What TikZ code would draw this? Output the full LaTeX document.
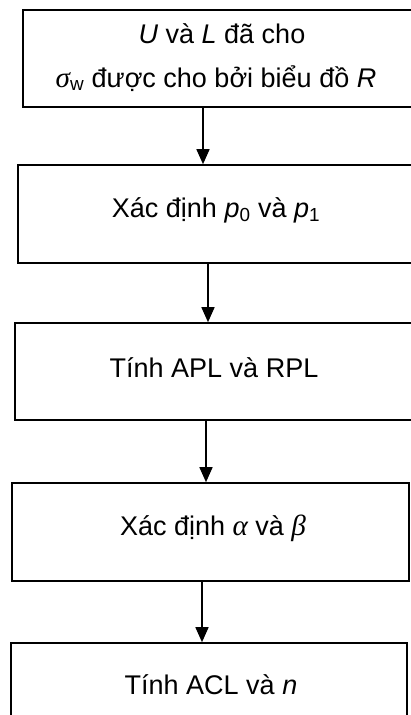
\documentclass[tikz,border=0pt]{standalone}
\usepackage{fontspec}
\setmainfont{Liberation Sans}
\newfontfamily\grk{Liberation Serif}[Scale=1.08]
\usetikzlibrary{arrows.meta}
\begin{document}
\begin{tikzpicture}[x=1pt,y=-1pt,
  stepbox/.style={draw=black, line width=1.6pt, rectangle, inner sep=0pt},
  label/.style={anchor=base, inner sep=0pt, font=\fontsize{27}{44}\selectfont, align=center},
  flow/.style={line width=1.5pt, -{Triangle[length=15pt,width=13pt]}}]
\useasboundingbox (0,0) rectangle (410,715);
% process boxes (corners in pixel-like units)
\node[stepbox, minimum width=389pt, minimum height=97pt] (b1) at (217.5,58.5) {};
\node[stepbox, minimum width=394pt, minimum height=98pt] (b2) at (215,214) {};
\node[stepbox, minimum width=397pt, minimum height=97pt] (b3) at (213.5,371.5) {};
\node[stepbox, minimum width=397pt, minimum height=98pt] (b4) at (210.5,532) {};
\node[stepbox, minimum width=396pt, minimum height=80pt] (b5) at (209,683) {};
% texts
\node[label] (t1a) at (222,43) {\itshape U\upshape{} và \itshape L\upshape{} đã cho};
\node[label] (t1b) at (216,87) {{\grk\itshape σ}\textsubscript{w} được cho bởi biểu đồ \itshape R};
\node[label] (t2) at (216,217) {Xác định {\itshape p}\textsubscript{0} và {\itshape p}\textsubscript{1}};
\node[label] (t3) at (214,377) {Tính APL và RPL};
\node[label] (t4) at (213,535) {Xác định {\grk\itshape α} và {\grk\itshape β}};
\node[label] (t5) at (211,694) {Tính ACL và \itshape n};
% connectors
\draw[flow] ([xshift=-14.5pt]b1.south) -- ([xshift=-12pt]b2.north);
\draw[flow] ([xshift=-7pt]b2.south) -- ([xshift=-5.5pt]b3.north);
\draw[flow] ([xshift=-7.5pt]b3.south) -- ([xshift=-4.5pt]b4.north);
\draw[flow] ([xshift=-8.5pt]b4.south) -- ([xshift=-7pt]b5.north);
\end{tikzpicture}
\end{document}
